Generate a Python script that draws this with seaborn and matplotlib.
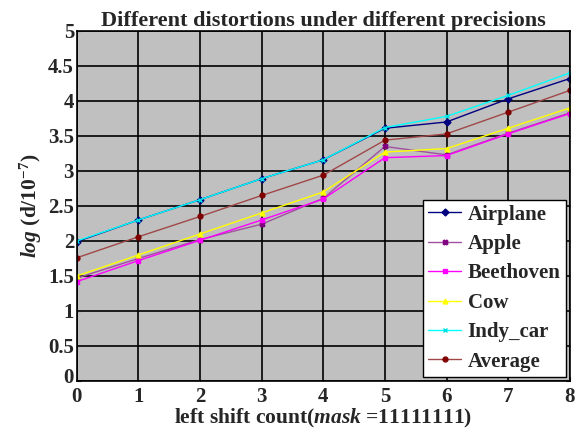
import seaborn as sns
import pandas as pd
import matplotlib
matplotlib.use("Agg")
import matplotlib.pyplot as plt
import matplotlib.transforms as mtransforms

# Data
shift_count = [0, 1, 2, 3, 4, 5, 6, 7, 8]
airplane = [1.99, 2.30, 2.59, 2.89, 3.16, 3.61, 3.70, 4.03, 4.32]
apple = [1.47, 1.75, 2.02, 2.24, 2.61, 3.35, 3.23, 3.54, 3.83]
beethoven = [1.42, 1.72, 2.01, 2.30, 2.60, 3.19, 3.22, 3.53, 3.82]
cow = [1.50, 1.80, 2.10, 2.40, 2.70, 3.27, 3.32, 3.61, 3.90]
indy_car = [2.00, 2.30, 2.59, 2.89, 3.16, 3.62, 3.78, 4.08, 4.40]
average = [1.76, 2.06, 2.35, 2.65, 2.94, 3.44, 3.53, 3.84, 4.15]

series_names = ["Airplane", "Apple", "Beethoven", "Cow", "Indy_car", "Average"]
series_values = [airplane, apple, beethoven, cow, indy_car, average]
line_colors = ["#000080", "#a050a0", "#ff00ff", "#ffff00", "#00ffff", "#a04848"]
marker_colors = ["#000080", "#800080", "#ff00ff", "#ffff00", "#00e0e0", "#800000"]
markers = ["D", "X", "s", "^", "x", "o"]

sns.set_style("ticks")
plt.rcParams["font.family"] = ["Liberation Serif", "DejaVu Serif"]
plt.rcParams["font.weight"] = "bold"
plt.rcParams["mathtext.fontset"] = "custom"
plt.rcParams["mathtext.rm"] = "Liberation Serif:bold"
plt.rcParams["mathtext.it"] = "Liberation Serif:italic:bold"
plt.rcParams["mathtext.bf"] = "Liberation Serif:bold"

fig = plt.figure(figsize=(5.82, 4.30), dpi=100)
ax = fig.add_axes([0.132, 0.114, 0.847, 0.814])
ax.set_facecolor("#c0c0c0")

for name, vals, lc, mc, mk in zip(series_names, series_values, line_colors, marker_colors, markers):
    df = pd.DataFrame({"x": shift_count, "y": vals})
    sns.lineplot(data=df, x="x", y="y", ax=ax, color=lc, linewidth=1.0,
                 marker=mk, markersize=3.5, markerfacecolor=mc, markeredgecolor=mc,
                 markeredgewidth=1.0, label=name)

ax.set_xlim(0, 8)
ax.set_ylim(0, 5)
ax.set_xticks(range(0, 9))
ax.set_yticks([0, 0.5, 1, 1.5, 2, 2.5, 3, 3.5, 4, 4.5, 5])
ax.set_yticklabels(["0", "0.5", "1", "1.5", "2", "2.5", "3", "3.5", "4", "4.5", "5"])
ax.grid(True, color="black", linewidth=1.2)
ax.set_axisbelow(True)
for s in ax.spines.values():
    s.set_color("black")
    s.set_linewidth(1.2)
ax.tick_params(direction="in", top=False, right=True, labelsize=15, length=3, pad=2)
ax.tick_params(axis="x", pad=4)
for lab in ax.get_xticklabels() + ax.get_yticklabels():
    lab.set_fontweight("bold")
# lift the y "0" a little so it clears the x "0", as in the reference
y0 = ax.get_yticklabels()[0]
y0.set_transform(y0.get_transform() + mtransforms.ScaledTranslation(0, 4 / 72, fig.dpi_scale_trans))

ax.set_title("Different distortions under different precisions", fontsize=16,
             fontweight="bold", pad=3)
ax.set_xlabel(r"left shift count($mask$ =11111111)", fontsize=15.5, fontweight="bold", labelpad=0)
ax.set_ylabel(r"$log$ (d/10$^{-7}$)", fontsize=15.5, fontweight="bold", labelpad=3)

leg = ax.legend(loc="lower right", frameon=True, fancybox=False, fontsize=15,
                handlelength=1.6, borderpad=0.25, labelspacing=0.45, handletextpad=0.3,
                borderaxespad=0.2)
leg.get_frame().set_edgecolor("black")
leg.get_frame().set_facecolor("white")
leg.get_frame().set_alpha(1)
leg.get_frame().set_linewidth(1.0)
for t in leg.get_texts():
    t.set_fontweight("bold")

fig.savefig("out.png", dpi=100)
